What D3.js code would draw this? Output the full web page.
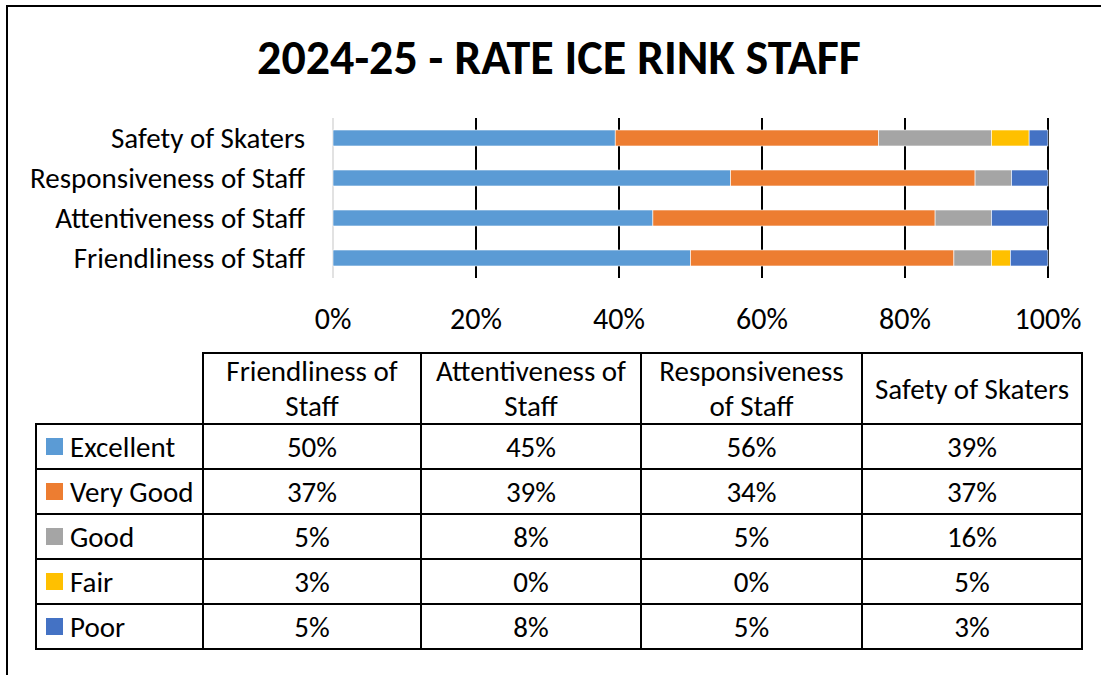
<!DOCTYPE html>
<html>
<head>
<meta charset="utf-8">
<script src="https://cdn.jsdelivr.net/npm/d3@7"></script>
<style>
  html, body { margin: 0; padding: 0; background: #fff; }
  svg { display: block; font-family: Carlito, Lato, "Open Sans", sans-serif; }
</style>
</head>
<body>
<svg id="chart" width="1101" height="675"></svg>
<script>
// Categories, top to bottom in the bar chart
const categories = ['Safety of Skaters', 'Responsiveness of Staff', 'Attentiveness of Staff', 'Friendliness of Staff'];
// Table column order
const tableColumns = ['Friendliness of Staff', 'Attentiveness of Staff', 'Responsiveness of Staff', 'Safety of Skaters'];
const tableHeaders = [['Friendliness of', 'Staff'], ['Attentiveness of', 'Staff'], ['Responsiveness', 'of Staff'], ['Safety of Skaters']];
const ratings = ['Excellent', 'Very Good', 'Good', 'Fair', 'Poor'];
const colors = ['#5B9BD5', '#ED7D31', '#A5A5A5', '#FFC000', '#4472C4'];

// Percent per rating, one array per category (same order as ratings)
const friendliness = [50.0, 36.84, 5.26, 2.63, 5.26];
const attentiveness = [44.74, 39.47, 7.89, 0, 7.89];
const responsiveness = [55.6, 34.2, 5.1, 0, 5.1];
const safety = [39.47, 36.84, 15.79, 5.26, 2.63];

const ticks = [0, 20, 40, 60, 80, 100];

const seriesByCat = {
  'Friendliness of Staff': friendliness,
  'Attentiveness of Staff': attentiveness,
  'Responsiveness of Staff': responsiveness,
  'Safety of Skaters': safety
};

const FS = 29; // body text size

const svg = d3.select('#chart');

// outer frame (right and bottom edges fall outside the picture)
svg.append('rect')
  .attr('x', 7).attr('y', 6).attr('width', 1100).attr('height', 700)
  .attr('fill', 'none').attr('stroke', '#000').attr('stroke-width', 2);

svg.append('text')
  .attr('x', 559).attr('y', 74)
  .attr('text-anchor', 'middle')
  .attr('font-size', 48).attr('font-weight', 'bold')
  .text('2024-25 - RATE ICE RINK STAFF');

const x = d3.scaleLinear().domain([0, 100]).range([333, 1048]);
const y = d3.scaleBand().domain(categories).range([118, 278])
  .paddingInner(0.6).paddingOuter(0.3);

// gridlines
svg.append('g').selectAll('line')
  .data(ticks)
  .join('line')
  .attr('x1', d => x(d)).attr('x2', d => x(d))
  .attr('y1', 118).attr('y2', 278)
  .attr('stroke', d => d === 0 ? '#d9d9d9' : '#000')
  .attr('stroke-width', d => d === 0 ? 1.5 : 2);

// stacked bars
const rows = categories.map(c => {
  const vals = seriesByCat[c];
  const o = { cat: c };
  ratings.forEach((r, i) => { o[r] = vals[i]; });
  return o;
});
const stacked = d3.stack().keys(ratings)(rows);

svg.append('g').selectAll('g')
  .data(stacked)
  .join('g')
  .attr('fill', (d, i) => colors[i])
  .selectAll('rect')
  .data(d => d)
  .join('rect')
  .attr('x', d => x(d[0]))
  .attr('width', d => x(d[1]) - x(d[0]))
  .attr('y', d => y(d.data.cat))
  .attr('height', y.bandwidth())
  .attr('stroke', '#fff').attr('stroke-width', 0.6);

// category labels
svg.append('g').selectAll('text')
  .data(categories)
  .join('text')
  .attr('x', 305)
  .attr('y', d => y(d) + y.bandwidth() / 2)
  .attr('dy', '0.35em')
  .attr('text-anchor', 'end')
  .attr('font-size', FS)
  .text(d => d);

// x axis labels
svg.append('g').selectAll('text')
  .data(ticks)
  .join('text')
  .attr('x', d => x(d))
  .attr('y', 318)
  .attr('dy', '0.35em')
  .attr('text-anchor', 'middle')
  .attr('font-size', FS + 1)
  .text(d => d + '%');

// data table
const colX = [36, 203, 421, 641, 862, 1082];
const rowY = [353, 424, 469, 514, 559, 604, 649];
const tbl = svg.append('g');
const line = (x1, y1, x2, y2) => tbl.append('line')
  .attr('x1', x1).attr('y1', y1).attr('x2', x2).attr('y2', y2)
  .attr('stroke', '#000').attr('stroke-width', 2).attr('stroke-linecap', 'square');

line(colX[1], rowY[0], colX[5], rowY[0]);
for (let r = 1; r < rowY.length; r++) line(colX[0], rowY[r], colX[5], rowY[r]);
line(colX[0], rowY[1], colX[0], rowY[6]);
for (let c = 1; c < colX.length; c++) line(colX[c], rowY[0], colX[c], rowY[6]);

// header text
tableHeaders.forEach((lines, c) => {
  const cx = (colX[c + 1] + colX[c + 2]) / 2;
  const cy = (rowY[0] + rowY[1]) / 2;
  const t = tbl.append('text')
    .attr('text-anchor', 'middle')
    .attr('font-size', FS);
  lines.forEach((s, i) => {
    t.append('tspan')
      .attr('x', cx)
      .attr('y', cy + (i - (lines.length - 1) / 2) * 35)
      .attr('dy', '0.35em')
      .text(s);
  });
});

// legend column
ratings.forEach((r, i) => {
  const cy = (rowY[i + 1] + rowY[i + 2]) / 2;
  tbl.append('rect')
    .attr('x', 46).attr('y', cy - 8.5).attr('width', 17).attr('height', 17)
    .attr('fill', colors[i]);
  tbl.append('text')
    .attr('x', 70).attr('y', cy).attr('dy', '0.35em')
    .attr('font-size', FS)
    .text(r);
});

// values
const fmt = v => Math.round(v) + '%';
tableColumns.forEach((c, ci) => {
  const cx = (colX[ci + 1] + colX[ci + 2]) / 2;
  seriesByCat[c].forEach((v, ri) => {
    tbl.append('text')
      .attr('x', cx)
      .attr('y', (rowY[ri + 1] + rowY[ri + 2]) / 2)
      .attr('dy', '0.35em')
      .attr('text-anchor', 'middle')
      .attr('font-size', FS)
      .text(fmt(v));
  });
});
</script>
</body>
</html>
